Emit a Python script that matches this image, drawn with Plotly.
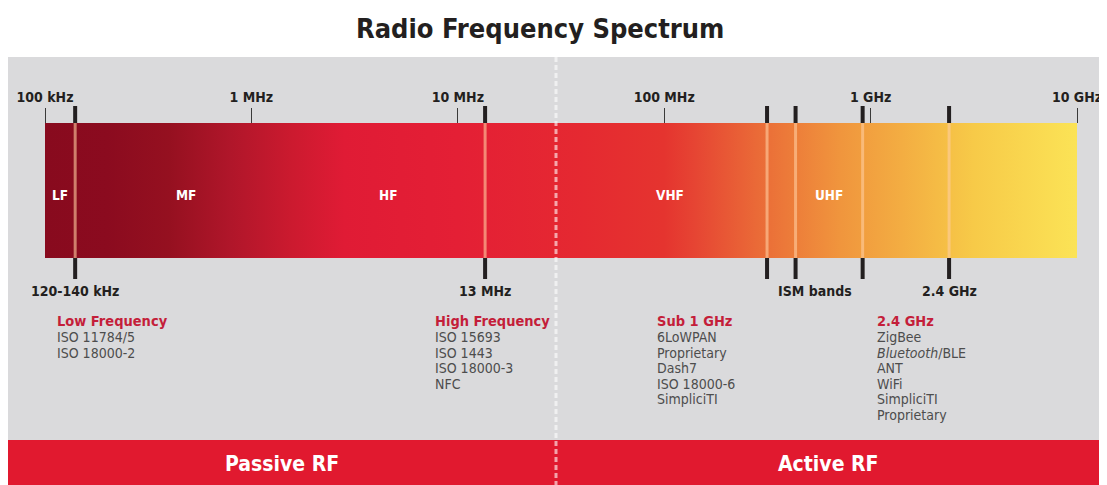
import math
import plotly.graph_objects as go

# ---------------- data ----------------
spectrum_range = [1e5, 1e10]                      # 100 kHz .. 10 GHz
decade_vals = [1e5, 1e6, 1e7, 1e8, 1e9, 1e10]
decade_labels = ["100 kHz", "1 MHz", "10 MHz", "100 MHz", "1 GHz", "10 GHz"]

marker_freqs = [140e3, 13.56e6, 315e6, 433e6, 915e6, 2.4e9]
marker_label_text = ["120-140 kHz", "13 MHz", "ISM bands", "2.4 GHz"]
marker_label_freqs = [140e3, 13.56e6, 537e6, 2.4e9]

band_names = ["LF", "MF", "HF", "VHF", "UHF"]
band_label_freqs = [118e3, 480e3, 4.6e6, 107e6, 630e6]

section_titles = ["Low Frequency", "High Frequency", "Sub 1 GHz", "2.4 GHz"]
lf_standards = ["ISO 11784/5", "ISO 18000-2"]
hf_standards = ["ISO 15693", "ISO 1443", "ISO 18000-3", "NFC"]
sub1_standards = ["6LoWPAN", "Proprietary", "Dash7", "ISO 18000-6", "SimpliciTI"]
ghz24_standards = ["ZigBee", "<i>Bluetooth</i>/BLE", "ANT", "WiFi", "SimpliciTI", "Proprietary"]
section_lists = [lf_standards, hf_standards, sub1_standards, ghz24_standards]

region_names = ["Passive RF", "Active RF"]

# ---------------- layout helpers ----------------
# the page has an 8 px body margin, so the figure starts at screen (8, 8)
OFF = 8
SW, SH = 1107, 485
W, H = SW - OFF, SH - OFF
PL, PR = 45, 1077              # plot area in screen px
ML, MR = PL - OFF, SW - PR
PW = PR - PL
def px(xp):
    return (xp - PL) / PW

BAR_TOP, BAR_BOT = 123, 258
FONT = "DejaVu Sans Condensed, DejaVu Sans, sans-serif"
DARK = "#231f20"
RED_TXT = "#c41e3a"
GRAY_TXT = "#4d4d4d"
GRAY_BG = "#dadadc"
RED_BG = "#e1192f"

grad = [
    [0.000, "#880a1e"], [0.060, "#8b0b1f"], [0.120, "#951020"],
    [0.180, "#b0162a"], [0.240, "#cc1a2f"], [0.290, "#e01b35"],
    [0.400, "#e41f35"], [0.520, "#e52931"], [0.600, "#e5342f"],
    [0.630, "#e64533"], [0.690, "#ea6a37"], [0.770, "#f0953d"],
    [0.830, "#f3ad42"], [0.900, "#f7ca48"], [1.000, "#fbe356"],
]

fig = go.Figure()

# spectrum bar with gradient
fig.add_trace(go.Scatter(
    x=[spectrum_range[0], spectrum_range[1], spectrum_range[1], spectrum_range[0], spectrum_range[0]],
    y=[BAR_TOP, BAR_TOP, BAR_BOT, BAR_BOT, BAR_TOP],
    mode="lines", fill="toself", line=dict(width=0),
    fillgradient=dict(type="horizontal", colorscale=grad),
    hoverinfo="skip", showlegend=False,
))

# marker lines
xs_in, ys_in, xs_out, ys_out = [], [], [], []
for f in marker_freqs:
    xs_in += [f, f, None]
    ys_in += [BAR_TOP, BAR_BOT, None]
    xs_out += [f, f, None, f, f, None]
    ys_out += [106, BAR_TOP, None, BAR_BOT, 279, None]
fig.add_trace(go.Scatter(x=xs_in, y=ys_in, mode="lines",
                         line=dict(color="rgba(255,205,160,0.6)", width=3),
                         hoverinfo="skip", showlegend=False))
fig.add_trace(go.Scatter(x=xs_out, y=ys_out, mode="lines",
                         line=dict(color=DARK, width=4),
                         hoverinfo="skip", showlegend=False))

shapes = [
    dict(type="rect", xref="paper", yref="y", x0=px(OFF), x1=px(SW + 5), y0=57, y1=440,
         fillcolor=GRAY_BG, line=dict(width=0), layer="below"),
    dict(type="rect", xref="paper", yref="y", x0=px(OFF), x1=px(SW + 5), y0=440, y1=SH + 5,
         fillcolor=RED_BG, line=dict(width=0), layer="below"),
    dict(type="line", xref="paper", yref="y", x0=px(556), x1=px(556), y0=57, y1=SH,
         line=dict(color="rgba(255,255,255,0.6)", width=3, dash="5px,3px"), layer="above"),
]

ann = []
# title
ann.append(dict(text="Radio Frequency Spectrum", xref="paper", yref="y", x=px(540), y=28,
                showarrow=False, xanchor="center", yanchor="middle",
                font=dict(family=FONT, size=27, color=DARK, weight="bold")))
# band labels
for name, f in zip(band_names, band_label_freqs):
    ann.append(dict(text=name, xref="x", yref="y", x=math.log10(f), y=195,
                    showarrow=False, xanchor="center", yanchor="middle",
                    font=dict(family=FONT, size=13.5, color="white", weight="bold")))
# marker labels
for t, f in zip(marker_label_text, marker_label_freqs):
    ann.append(dict(text=t, xref="x", yref="y", x=math.log10(f), y=291,
                    showarrow=False, xanchor="center", yanchor="middle",
                    font=dict(family=FONT, size=14, color=DARK, weight="bold")))
# sections
section_x = [55, 433, 655, 875]
for title, items, sx in zip(section_titles, section_lists, section_x):
    ann.append(dict(text=title, xref="paper", yref="y", x=px(sx), y=321,
                    showarrow=False, xanchor="left", yanchor="middle",
                    font=dict(family=FONT, size=14.5, color=RED_TXT, weight="bold")))
    for i, it in enumerate(items):
        ann.append(dict(text=it, xref="paper", yref="y", x=px(sx), y=337 + 15.6 * i,
                        showarrow=False, xanchor="left", yanchor="middle",
                        font=dict(family=FONT, size=14, color=GRAY_TXT)))
# region labels
for name, cx in zip(region_names, [282, 828]):
    ann.append(dict(text=name, xref="paper", yref="y", x=px(cx), y=464,
                    showarrow=False, xanchor="center", yanchor="middle",
                    font=dict(family=FONT, size=21, color="white", weight="bold")))

fig.update_layout(
    width=W, height=H,
    margin=dict(l=ML, r=MR, t=0, b=0, pad=0),
    paper_bgcolor="white", plot_bgcolor="rgba(0,0,0,0)",
    showlegend=False,
    shapes=shapes, annotations=ann,
    xaxis=dict(type="log", range=[5, 10], anchor="free", position=1 - (BAR_TOP - OFF) / H,
               side="top", tickvals=decade_vals, ticktext=decade_labels,
               ticks="outside", ticklen=15, tickwidth=1, tickcolor="#3a3a3a",
               showgrid=False, zeroline=False, showline=False, automargin=False,
               tickfont=dict(family=FONT, size=14, color=DARK, weight="bold"),
               fixedrange=True),
    yaxis=dict(range=[SH, OFF], visible=False, fixedrange=True),
)

fig.write_html("out.html")
